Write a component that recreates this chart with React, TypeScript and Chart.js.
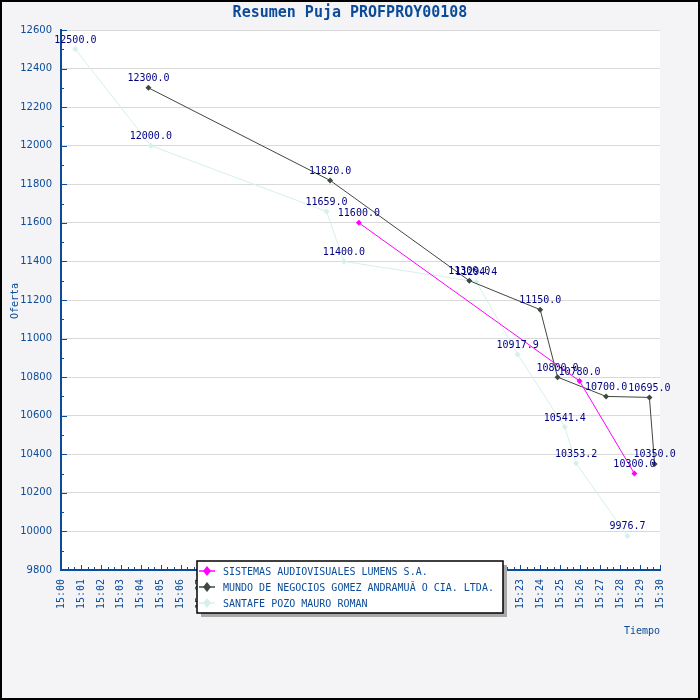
import React, { useEffect, useRef } from 'react';
import Chart from 'chart.js/auto';

// minutes after 15:00 and offers for each bidder
const sistemasTimes = [14.92, 25.97, 28.72];
const sistemasValues = [11600, 10780, 10300];

const mundoTimes = [4.38, 13.48, 20.45, 24.0, 24.87, 27.3, 29.47, 29.73];
const mundoValues = [12300, 11820, 11300, 11150, 10800, 10700, 10695, 10350];

const santafeTimes = [0.72, 4.5, 13.3, 14.17, 20.8, 22.87, 25.23, 25.8, 28.37];
const santafeValues = [12500, 12000, 11659, 11400, 11294.4, 10917.9, 10541.4, 10353.2, 9976.7];

const seriesNames = [
  'SISTEMAS AUDIOVISUALES LUMENS S.A.',
  'MUNDO DE NEGOCIOS GOMEZ ANDRAMUĂ O CIA. LTDA.',
  'SANTAFE POZO MAURO ROMAN'
];
const seriesColors = ['#ff00ff', '#3e4a3e', '#d4f2ea'];

const titleText = 'Resumen Puja PROFPROY00108';
const yTitle = 'Oferta';
const xTitle = 'Tiempo';

const BLUE = '#0b4b99';
const MONO = '"DejaVu Sans Mono", monospace';

const toPoints = (xs: number[], ys: number[]) => xs.map((x, i) => ({ x, y: ys[i] }));

const decorPlugin = {
  id: 'decor',
  beforeDraw(chart: any) {
    const { ctx, chartArea } = chart;
    ctx.save();
    ctx.fillStyle = '#f4f4f6';
    ctx.fillRect(0, 0, chart.width, chart.height);
    ctx.fillStyle = '#ffffff';
    ctx.fillRect(chartArea.left, chartArea.top, chartArea.right - chartArea.left, chartArea.bottom - chartArea.top);
    ctx.restore();
  },
  afterDatasetsDraw(chart: any) {
    const { ctx } = chart;
    ctx.save();
    ctx.font = '10px ' + MONO;
    ctx.fillStyle = '#000080';
    ctx.textAlign = 'center';
    ctx.textBaseline = 'alphabetic';
    chart.data.datasets.forEach((ds: any, i: number) => {
      const meta = chart.getDatasetMeta(i);
      meta.data.forEach((pt: any, j: number) => {
        ctx.fillText(ds.data[j].y.toFixed(1), pt.x, pt.y - 6.5);
      });
    });
    ctx.restore();
  },
  afterDraw(chart: any) {
    const { ctx, chartArea } = chart;
    const xs = chart.scales.x;
    const ys = chart.scales.y;
    ctx.save();

    // minor / major tick marks
    ctx.strokeStyle = BLUE;
    ctx.lineWidth = 1;
    ctx.beginPath();
    for (let v = ys.min; v <= ys.max; v += 100) {
      const y = Math.round(ys.getPixelForValue(v)) + 0.5;
      const len = v % 200 === 0 ? 6 : 3;
      ctx.moveTo(chartArea.left, y);
      ctx.lineTo(chartArea.left + len, y);
    }
    for (let k = 0; k <= 90; k++) {
      const x = Math.round(xs.getPixelForValue(k / 3)) + 0.5;
      const len = k % 3 === 0 ? 5 : 3;
      ctx.moveTo(x, chartArea.bottom);
      ctx.lineTo(x, chartArea.bottom - len);
    }
    ctx.stroke();

    // title
    ctx.fillStyle = BLUE;
    ctx.font = 'bold 15px ' + MONO;
    ctx.textAlign = 'center';
    ctx.textBaseline = 'middle';
    ctx.fillText(titleText, 350, 13);

    // axis titles
    ctx.font = '10px ' + MONO;
    ctx.save();
    ctx.translate(15, 301);
    ctx.rotate(-Math.PI / 2);
    ctx.fillText(yTitle, 0, 0);
    ctx.restore();
    ctx.textAlign = 'right';
    ctx.fillText(xTitle, 660, 631);

    // legend box
    const lx = 197, ly = 561, lw = 306, lh = 52;
    ctx.fillStyle = '#a9a9a9';
    ctx.fillRect(lx + 4, ly + 4, lw, lh);
    ctx.fillStyle = '#ffffff';
    ctx.fillRect(lx, ly, lw, lh);
    ctx.strokeStyle = '#000000';
    ctx.lineWidth = 1.5;
    ctx.strokeRect(lx, ly, lw, lh);
    seriesNames.forEach((name, i) => {
      const ry = ly + 10 + i * 16;
      ctx.strokeStyle = seriesColors[i];
      ctx.fillStyle = seriesColors[i];
      ctx.lineWidth = 1.5;
      ctx.beginPath();
      ctx.moveTo(lx + 2, ry);
      ctx.lineTo(lx + 18, ry);
      ctx.stroke();
      ctx.beginPath();
      ctx.moveTo(lx + 10, ry - 5);
      ctx.lineTo(lx + 14, ry);
      ctx.lineTo(lx + 10, ry + 5);
      ctx.lineTo(lx + 6, ry);
      ctx.closePath();
      ctx.fill();
      ctx.fillStyle = BLUE;
      ctx.font = '10px ' + MONO;
      ctx.textAlign = 'left';
      ctx.textBaseline = 'middle';
      ctx.fillText(name, lx + 26, ry + 1);
    });

    // outer frame
    ctx.strokeStyle = '#000000';
    ctx.lineWidth = 2;
    ctx.strokeRect(1, 1, chart.width - 2, chart.height - 2);
    ctx.restore();
  }
};

const App = () => {
  const chartRef = useRef<HTMLCanvasElement>(null);

  useEffect(() => {
    if (!chartRef.current) return;
    const mkSet = (label: string, color: string, xs: number[], ys: number[]) => ({
      label,
      data: toPoints(xs, ys),
      borderColor: color,
      backgroundColor: color,
      borderWidth: 1,
      pointStyle: 'rectRot',
      pointRadius: 3,
      pointBorderWidth: 0,
      tension: 0
    });
    const chart = new Chart(chartRef.current, {
      type: 'line',
      data: {
        datasets: [
          mkSet(seriesNames[0], seriesColors[0], sistemasTimes, sistemasValues),
          mkSet(seriesNames[1], seriesColors[1], mundoTimes, mundoValues),
          mkSet(seriesNames[2], seriesColors[2], santafeTimes, santafeValues)
        ]
      },
      options: {
        responsive: false,
        animation: false,
        layout: { padding: { left: 0, top: 30, right: 40, bottom: 0 } },
        scales: {
          x: {
            type: 'linear',
            min: 0,
            max: 30,
            afterFit: (s: any) => { s.height = 130; },
            ticks: {
              stepSize: 1,
              autoSkip: false,
              minRotation: 90,
              maxRotation: 90,
              padding: 9,
              color: BLUE,
              font: { family: MONO, size: 10 },
              callback: (v: any) => '15:' + String(v).padStart(2, '0')
            },
            grid: { display: false, drawTicks: false },
            border: { display: true, color: BLUE, width: 2 }
          },
          y: {
            min: 9800,
            max: 12600,
            afterFit: (s: any) => { s.width = 61; },
            ticks: {
              stepSize: 200,
              padding: 9,
              color: BLUE,
              font: { family: '"DejaVu Sans", sans-serif', size: 10 },
              callback: (v: any) => String(v)
            },
            grid: { color: '#d9d9d9', drawTicks: false },
            border: { display: true, color: BLUE, width: 2 }
          }
        },
        plugins: {
          legend: { display: false },
          tooltip: { enabled: false },
          title: { display: false }
        }
      },
      plugins: [decorPlugin]
    });
    return () => {
      chart.destroy();
    };
  }, []);

  return (
    <div style={{ position: 'absolute', left: 0, top: 0, width: 700, height: 700 }}>
      <canvas ref={chartRef} width={700} height={700} />
    </div>
  );
};

export default App;
